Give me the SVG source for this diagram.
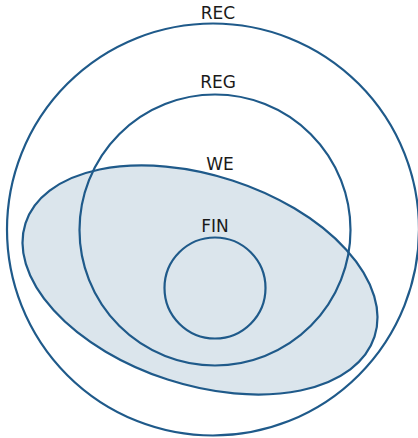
<svg xmlns="http://www.w3.org/2000/svg" width="418" height="438" viewBox="0 0 418 438">
  <style>
    .set { fill: none; stroke: #1f5a8a; stroke-width: 2.2; }
    .shaded { fill: #dbe5ec; }
    .label { font-family: "DejaVu Sans", sans-serif; font-size: 17px; fill: #1a1a1a; text-anchor: middle; }
  </style>
  <rect width="418" height="438" fill="#ffffff"/>
  <!-- shaded region of WE drawn underneath all outlines -->
  <ellipse class="shaded" cx="200" cy="280" rx="183.5" ry="104.7" transform="rotate(18 200 280)"/>
  <g id="REC">
    <circle class="set" cx="213" cy="229.5" r="206"/>
    <text class="label" x="218" y="19">REC</text>
  </g>
  <g id="REG">
    <circle class="set" cx="215" cy="230" r="135.5"/>
    <text class="label" x="218" y="88">REG</text>
  </g>
  <g id="WE">
    <ellipse class="set" cx="200" cy="280" rx="183.5" ry="104.7" transform="rotate(18 200 280)"/>
    <text class="label" x="220" y="170">WE</text>
  </g>
  <g id="FIN">
    <circle class="set" cx="215" cy="288" r="50.5"/>
    <text class="label" x="215" y="232">FIN</text>
  </g>
  <g id="connectors"/>
</svg>
